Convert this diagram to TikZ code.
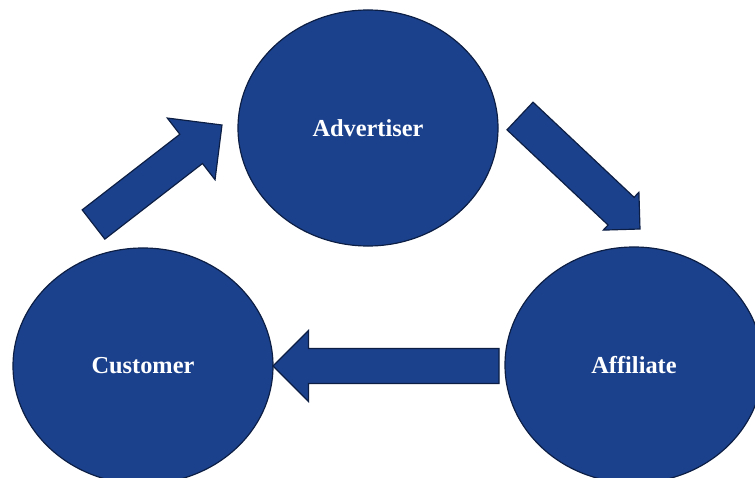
\documentclass[tikz,border=0pt]{standalone}
\usepackage{fontspec}
\setmainfont{Liberation Serif}
\usetikzlibrary{shapes.geometric,calc}
\definecolor{myblue}{RGB}{27,65,140}
\definecolor{mynavy}{RGB}{12,30,68}

% block arrow from #1 (tail) to #2 (tip), half shaft #3, half head #4
\newcommand{\blockarrow}[4]{%
  \coordinate (#1base) at ($(#2)!#4!(#1)$);
  \draw[flow] ($(#1)!#3!90:(#2)$) -- ($(#1base)!#3!90:(#2)$) -- ($(#1base)!#4!90:(#2)$) -- (#2)
    -- ($(#1base)!#4!-90:(#2)$) -- ($(#1base)!#3!-90:(#2)$) -- ($(#1)!#3!-90:(#2)$) -- cycle;}

\begin{document}
\begin{tikzpicture}[x=0.03cm,y=-0.03cm,
    party/.style={ellipse,draw=mynavy,line width=1pt,fill=myblue,text=white,
      font=\fontsize{20.8}{24}\selectfont\bfseries,
      minimum width=7.8cm,minimum height=7.08cm,inner sep=0pt,outer sep=0pt},
    flow/.style={draw=mynavy,line width=1pt,fill=myblue}]

        \path[fill=white,use as bounding box] (0,0) rectangle (755,478);

        \node[party] (adv) at (368,128) {Advertiser};
        \node[party] (cust) at (143,366) {Customer};
        \node[party,minimum width=7.74cm] (aff) at (634,365) {Affiliate};

        \coordinate (t1) at (93.5,224.5);
        \coordinate (h1) at (222,125);
        \coordinate (t2) at (520,116);
        \coordinate (h2) at (640,229);
        \coordinate (t3) at (499,366);

        \blockarrow{t1}{h1}{0.555cm}{1.17cm}
        \blockarrow{t2}{h2}{0.57cm}{0.78cm}
        \blockarrow{t3}{cust.east}{0.525cm}{1.065cm}
\end{tikzpicture}
\end{document}
